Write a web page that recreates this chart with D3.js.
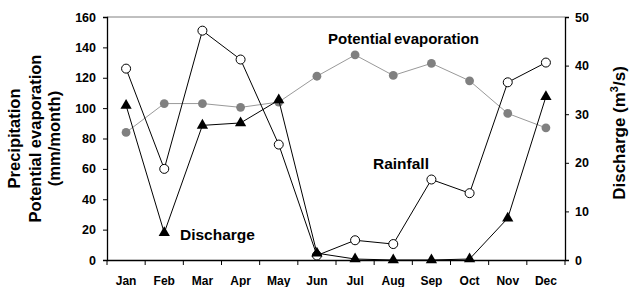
<!DOCTYPE html>
<html>
<head>
<meta charset="utf-8">
<script src="https://cdn.jsdelivr.net/npm/d3@7"></script>
<style>
  body { margin: 0; background: #fff; }
  svg { font-family: "Liberation Sans", Arial, sans-serif; }
</style>
</head>
<body>
<svg id="chart" width="629" height="287"></svg>
<script>
// mois et séries
var months = ["Jan", "Feb", "Mar", "Apr", "May", "Jun", "Jul", "Aug", "Sep", "Oct", "Nov", "Dec"];
var rainfall = [126, 60, 151, 132, 76, 3, 13, 10.5, 53, 44, 117, 130];
var evaporation = [84, 103, 103, 100.5, 104, 121, 135, 121.5, 129.5, 118, 96.5, 87];
var discharge = [31.8, 5.6, 27.7, 28.2, 32.9, 1.4, 0.2, 0, 0, 0.2, 8.6, 33.6];
var leftTicks = [0, 20, 40, 60, 80, 100, 120, 140, 160];
var rightTicks = [0, 10, 20, 30, 40, 50];

var margin = { left: 107, right: 64, top: 17, bottom: 27 };
var width = 629, height = 287;

var svg = d3.select("#chart");

var x = d3.scaleBand()
  .domain(months)
  .range([margin.left, width - margin.right]);
var yL = d3.scaleLinear().domain([0, 160]).range([height - margin.bottom, margin.top]);
var yR = d3.scaleLinear().domain([0, 50]).range([height - margin.bottom, margin.top]);

var cx = d => x(d) + x.bandwidth() / 2;

// bordure du haut, grise
svg.append("line")
  .attr("x1", margin.left).attr("x2", width - margin.right)
  .attr("y1", margin.top).attr("y2", margin.top)
  .attr("stroke", "#808080").attr("stroke-width", 1);

// axe gauche
var axL = svg.append("g")
  .attr("transform", `translate(${margin.left},0)`)
  .call(d3.axisLeft(yL).tickValues(leftTicks).tickSizeOuter(0).tickSize(4).tickPadding(7));

// axe droit
var axR = svg.append("g")
  .attr("transform", `translate(${width - margin.right},0)`)
  .call(d3.axisRight(yR).tickValues(rightTicks).tickSizeOuter(0).tickSize(4).tickPadding(6));

// axe du bas, ticks aux limites des mois
var bottomY = height - margin.bottom;
var axB = svg.append("g")
  .attr("transform", `translate(0,${bottomY})`)
  .call(d3.axisBottom(x).tickSize(0).tickPadding(16.5));
var bounds = months.map(m => x(m)).concat([width - margin.right]);
axB.selectAll("line.bnd")
  .data(bounds)
  .join("line")
  .attr("class", "bnd")
  .attr("x1", d => d).attr("x2", d => d)
  .attr("y1", 0).attr("y2", 5)
  .attr("stroke", "#000");

[axL, axR, axB].forEach(a => {
  a.select(".domain").attr("stroke", "#000").attr("stroke-width", 1.3);
  a.selectAll(".tick text").attr("font-size", 12.5).attr("font-weight", "bold").attr("fill", "#000");
  a.selectAll(".tick line").attr("stroke", "#000");
});
axB.selectAll(".tick text").attr("font-size", 12);

// évaporation potentielle (gris)
var lineL = d3.line().x((d, i) => cx(months[i])).y(d => yL(d));
svg.append("path")
  .datum(evaporation)
  .attr("d", lineL)
  .attr("fill", "none")
  .attr("stroke", "#999")
  .attr("stroke-width", 1);
svg.append("g").selectAll("circle")
  .data(evaporation)
  .join("circle")
  .attr("cx", (d, i) => cx(months[i]))
  .attr("cy", d => yL(d))
  .attr("r", 4.4)
  .attr("fill", "#808080");

// pluie
svg.append("path")
  .datum(rainfall)
  .attr("d", lineL)
  .attr("fill", "none")
  .attr("stroke", "#000")
  .attr("stroke-width", 1);
svg.append("g").selectAll("circle")
  .data(rainfall)
  .join("circle")
  .attr("cx", (d, i) => cx(months[i]))
  .attr("cy", d => yL(d))
  .attr("r", 4.5)
  .attr("fill", "#fff")
  .attr("stroke", "#000")
  .attr("stroke-width", 1);

// débit (axe droit)
var lineR = d3.line().x((d, i) => cx(months[i])).y(d => yR(d));
svg.append("path")
  .datum(discharge)
  .attr("d", lineR)
  .attr("fill", "none")
  .attr("stroke", "#000")
  .attr("stroke-width", 1);
var tri = d3.symbol().type(d3.symbolTriangle).size(55);
svg.append("g").selectAll("path")
  .data(discharge)
  .join("path")
  .attr("d", tri)
  .attr("transform", (d, i) => `translate(${cx(months[i])},${yR(d)})`)
  .attr("fill", "#000");

// étiquettes des séries
var lab = svg.append("g").attr("font-weight", "bold").attr("fill", "#000");
lab.append("text").attr("x", 328).attr("y", 44).attr("font-size", 15).attr("word-spacing", -1.5).text("Potential evaporation");
lab.append("text").attr("x", 373).attr("y", 169).attr("font-size", 15.5).text("Rainfall");
lab.append("text").attr("x", 180).attr("y", 240).attr("font-size", 15.5).text("Discharge");

// titres des axes
var midY = (margin.top + bottomY) / 2;
var tl = svg.append("text")
  .attr("transform", `translate(0,${midY}) rotate(-90)`)
  .attr("text-anchor", "middle")
  .attr("font-weight", "bold")
  .attr("font-size", 16.5)
  .attr("fill", "#000");
[["Precipitation", 20], ["Potential evaporation", 41], ["(mm/month)", 60]].forEach(t => {
  tl.append("tspan").attr("x", 0).attr("y", t[1]).text(t[0]);
});

svg.append("text")
  .attr("transform", `translate(625,133) rotate(-90)`)
  .attr("text-anchor", "middle")
  .attr("font-weight", "bold")
  .attr("font-size", 17)
  .attr("fill", "#000")
  .call(t => {
    t.append("tspan").text("Discharge (m");
    t.append("tspan").attr("font-size", 11).attr("dy", "-0.6em").text("3");
    t.append("tspan").attr("dy", "0.4em").text("/s)");
  });
</script>
</body>
</html>
